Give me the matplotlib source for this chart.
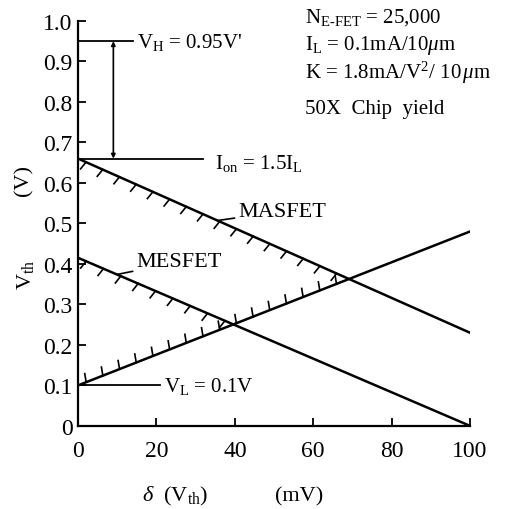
import numpy as np
import matplotlib
matplotlib.use("Agg")
import matplotlib.pyplot as plt
from matplotlib import patheffects

plt.rcParams['font.family'] = ['Liberation Serif', 'DejaVu Serif']
plt.rcParams['mathtext.fontset'] = 'custom'
plt.rcParams['mathtext.rm'] = 'Liberation Serif'
plt.rcParams['mathtext.it'] = 'Liberation Serif:italic'

# values
delta = [0, 100]                 # delta(Vth), mV
masfet = [0.66, 0.23]            # upper limit, MASFET
mesfet = [0.415, 0.0]            # upper limit, MESFET
lower = [0.10, 0.48]             # lower limit line
masfet_cross = 68                # where hatching stops
mesfet_cross = 39.5

v_h = 0.95
v_on = 0.66
v_l = 0.10

fig = plt.figure(figsize=(5.07, 5.10), dpi=100)
ax = fig.add_axes([0.154, 0.163, 0.773, 0.794])

lc = 'black'
lw = 1.8
ax.plot(delta, masfet, color=lc, lw=lw)
ax.plot(delta, mesfet, color=lc, lw=lw)
ax.plot(delta, lower, color=lc, lw=lw)

# hatched parts (feasible side)
def hatched(x_end, ys, angle):
    xs = np.array([0, x_end])
    yy = np.interp(xs, delta, ys)
    ax.plot(xs, yy, color=lc, lw=lw,
            path_effects=[patheffects.TickedStroke(angle=angle, spacing=12.5, length=0.5,
                                                   linewidth=1.2, foreground=lc)])

hatched(masfet_cross, masfet, -105)
hatched(mesfet_cross, mesfet, -105)
hatched(masfet_cross, lower, 78)

# reference levels
ax.plot([0, 14], [v_h, v_h], color=lc, lw=1.3)
ax.plot([0, 32], [v_on, v_on], color=lc, lw=1.3)
ax.plot([0, 21], [v_l, v_l], color=lc, lw=1.3)
ax.annotate('', xy=(9, v_on), xytext=(9, v_h),
            arrowprops=dict(arrowstyle='<|-|>', color=lc, lw=1.2,
                            mutation_scale=6, shrinkA=0, shrinkB=0))

fs = 15
ax.text(15, v_h, r"V$_\mathrm{H}$ = 0.95V'", fontsize=fs, va='center', ha='left')
ax.text(35, v_on - 0.01, r"I$_\mathrm{on}$ = 1.5I$_\mathrm{L}$", fontsize=fs, va='center', ha='left')
ax.text(22, v_l, r"V$_\mathrm{L}$ = 0.1V", fontsize=fs, va='center', ha='left')

ax.annotate('MASFET', xy=(35.5, 0.507), xytext=(41, 0.53), fontsize=16,
            va='center', ha='left',
            arrowprops=dict(arrowstyle='-', color=lc, lw=1.2, shrinkA=1, shrinkB=0))
ax.annotate('MESFET', xy=(10, 0.374), xytext=(15, 0.405), fontsize=16,
            va='center', ha='left',
            arrowprops=dict(arrowstyle='-', color=lc, lw=1.2, shrinkA=1, shrinkB=0))

notes = [r"N$_\mathrm{E\text{-}FET}$ = 25,000",
         r"I$_\mathrm{L}$ = 0.1mA/10$\mu$m",
         r"K = 1.8mA/V$^2$/ 10$\,\mu$m"]
for i, s in enumerate(notes):
    fig.text(0.601, 0.965 - i * 0.054, s, fontsize=fs, va='center', ha='left')
fig.text(0.601, 0.785, "50X  Chip  yield", fontsize=fs, va='center', ha='left')

ax.set_xlim(0, 100)
ax.set_ylim(0, 1.0)
ax.set_xticks([0, 20, 40, 60, 80, 100])
ax.set_yticks([0, 0.1, 0.2, 0.3, 0.4, 0.5, 0.6, 0.7, 0.8, 0.9, 1.0])
ax.set_yticklabels(['0', '0.1', '0.2', '0.3', '0.4', '0.5', '0.6', '0.7', '0.8', '0.9', '1.0'])
ax.tick_params(direction='in', length=6, width=1.3, labelsize=17)
ax.tick_params(axis='x', pad=10)
ax.tick_params(axis='y', pad=4)
for s in ['top', 'right']:
    ax.spines[s].set_visible(False)
for s in ['left', 'bottom']:
    ax.spines[s].set_linewidth(1.6)

fig.text(0.05, 0.46, r"V$_\mathrm{th}$", fontsize=16, rotation=90, va='center', ha='center')
fig.text(0.047, 0.647, "(V)", fontsize=16, rotation=90, va='center', ha='center')
fig.text(0.345, 0.026, r"$\delta$  (V$_\mathrm{th}$)", fontsize=16, va='center', ha='center')
fig.text(0.59, 0.026, "(mV)", fontsize=16, va='center', ha='center')

fig.savefig('out.png', dpi=100)
